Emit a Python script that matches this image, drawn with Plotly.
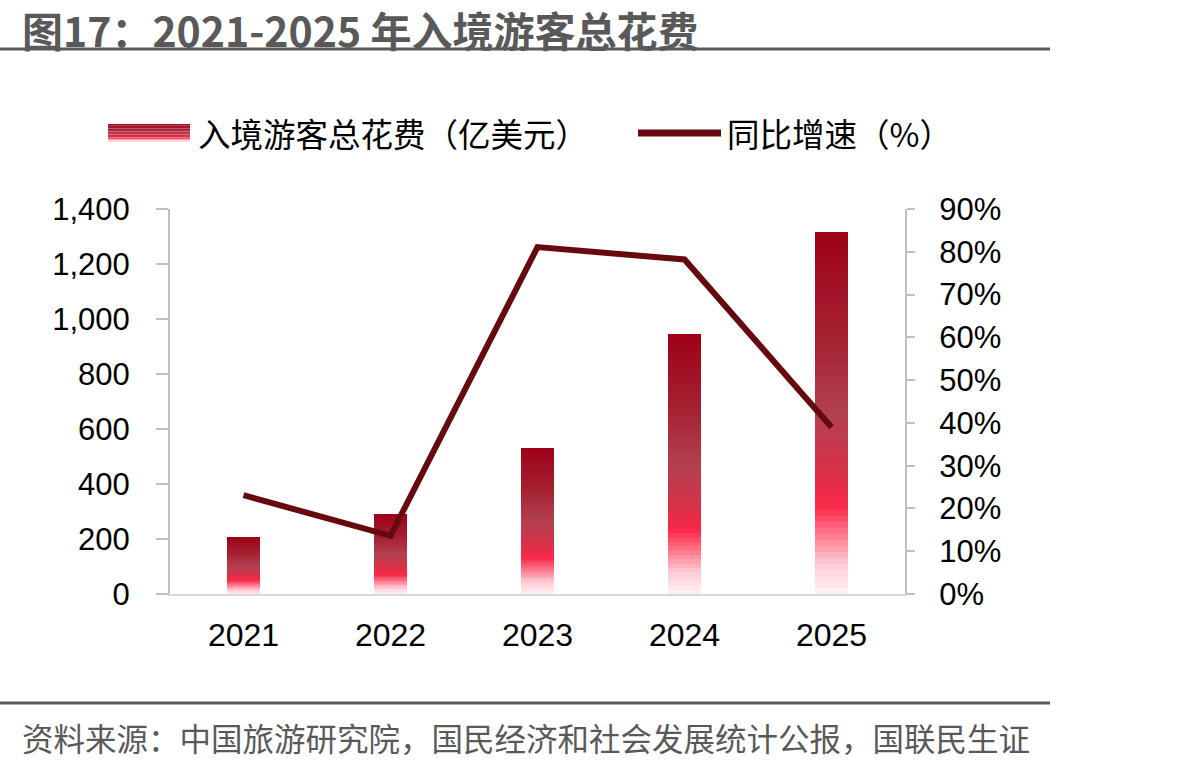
import plotly.graph_objects as go

# ---------------- data ----------------
years = ["2021", "2022", "2023", "2024", "2025"]
spending = [207, 291, 531, 945, 1316]          # 入境游客总花费（亿美元）
growth = [23.1, 13.6, 81.1, 78.2, 39.0]          # 同比增速（%）
left_ticks = [0, 200, 400, 600, 800, 1000, 1200, 1400]
right_ticks = [0, 10, 20, 30, 40, 50, 60, 70, 80, 90]
right_ticktext = ["0%", "10%", "20%", "30%", "40%", "50%", "60%", "70%", "80%", "90%"]

title_text = "图17：2021-2025 年入境游客总花费"
source_text = "资料来源：中国旅游研究院，国民经济和社会发展统计公报，国联民生证"
legend_bar = "入境游客总花费（亿美元）"
legend_line = "同比增速（%）"

# ---------------- styling ----------------
W, H = 1199, 765
L, R, T, B = 170, 905, 209, 594
FONT = "Liberation Sans, Arial, Noto Sans CJK SC, sans-serif"
CJK = "Noto Sans CJK SC, Liberation Sans, sans-serif"
LINE_COLOR = "#660A10"

# gradient stops: (fraction from bottom, rgb)
stops = [
    (0.00, (255, 242, 245)),
    (0.08, (255, 205, 214)),
    (0.16, (255, 125, 145)),
    (0.245, (250, 40, 72)),
    (0.35, (212, 50, 72)),
    (0.50, (178, 64, 80)),
    (0.70, (165, 35, 50)),
    (1.00, (158, 0, 24)),
]


def grad(f):
    for (f0, c0), (f1, c1) in zip(stops[:-1], stops[1:]):
        if f0 <= f <= f1:
            t = (f - f0) / (f1 - f0) if f1 > f0 else 0
            c = tuple(round(a + (b - a) * t) for a, b in zip(c0, c1))
            return "rgb(%d,%d,%d)" % c
    return "rgb(%d,%d,%d)" % stops[-1][1]


def px(xp):
    return (xp - L) / (R - L)


def py(yp):
    return (B - yp) / (B - T)


fig = go.Figure()

N = 60
for i in range(N):
    f = (i + 0.5) / N
    fig.add_trace(go.Bar(
        x=years, y=[v / N for v in spending],
        marker=dict(color=grad(f), line=dict(width=0)),
        width=0.22, showlegend=False, hoverinfo="skip",
        yaxis="y",
    ))

fig.add_trace(go.Scatter(
    x=years, y=growth, mode="lines",
    line=dict(color=LINE_COLOR, width=6),
    yaxis="y2", showlegend=False,
))

shapes = []
annotations = []

# title + rule
annotations.append(dict(
    xref="paper", yref="paper", x=px(20), y=py(29), xanchor="left", yanchor="middle",
    text="<b>%s</b>" % title_text, showarrow=False,
    font=dict(family=CJK, size=41, color="#595959"),
))
shapes.append(dict(type="line", xref="paper", yref="paper",
                   x0=px(0), x1=px(1050), y0=py(49), y1=py(49),
                   line=dict(color="#595959", width=3)))
# footer rule + source
shapes.append(dict(type="line", xref="paper", yref="paper",
                   x0=px(0), x1=px(1050), y0=py(703), y1=py(703),
                   line=dict(color="#595959", width=3)))
annotations.append(dict(
    xref="paper", yref="paper", x=px(20), y=py(737), xanchor="left", yanchor="middle",
    text=source_text, showarrow=False,
    font=dict(family=CJK, size=31.5, color="#595959"),
))

# legend: gradient bar symbol
nl = 12
y_top, y_bot = 124, 142
for i in range(nl):
    f = 1 - (i + 0.5) / nl
    ya = y_top + (y_bot - y_top) * i / nl
    yb = y_top + (y_bot - y_top) * (i + 1) / nl
    shapes.append(dict(type="rect", xref="paper", yref="paper",
                       x0=px(108), x1=px(190), y0=py(yb), y1=py(ya),
                       fillcolor=grad(f), line=dict(width=0), layer="above"))
annotations.append(dict(
    xref="paper", yref="paper", x=px(196), y=py(133), xanchor="left", yanchor="middle",
    text=legend_bar, showarrow=False, font=dict(family=CJK, size=32.5, color="#000000"),
))
shapes.append(dict(type="line", xref="paper", yref="paper",
                   x0=px(638), x1=px(721), y0=py(133), y1=py(133),
                   line=dict(color=LINE_COLOR, width=7)))
annotations.append(dict(
    xref="paper", yref="paper", x=px(725), y=py(133), xanchor="left", yanchor="middle",
    text=legend_line, showarrow=False, font=dict(family=CJK, size=32.5, color="#000000"),
))

fig.update_layout(
    width=W, height=H,
    margin=dict(l=L, r=W - R, t=T, b=H - B, pad=0),
    paper_bgcolor="white", plot_bgcolor="white",
    barmode="stack", bargap=0,
    showlegend=False,
    font=dict(family=FONT, size=30, color="#000000"),
    xaxis=dict(
        type="category", showgrid=False, zeroline=False,
        showline=True, linecolor="#D9D9D9", linewidth=2,
        ticks="", tickfont=dict(size=32, family=FONT, color="#000000"),
        ticklabelstandoff=12,
    ),
    yaxis=dict(
        range=[0, 1400], tickvals=left_ticks, tickformat=",d",
        showgrid=False, zeroline=False,
        showline=True, linecolor="#BFBFBF", linewidth=2,
        ticks="outside", ticklen=12, tickcolor="#BFBFBF", tickwidth=2,
        tickfont=dict(size=31, family=FONT, color="#000000"),
        ticklabelstandoff=20,
    ),
    yaxis2=dict(
        range=[0, 90], tickvals=right_ticks, ticktext=right_ticktext,
        overlaying="y", side="right",
        showgrid=False, zeroline=False,
        showline=True, linecolor="#BFBFBF", linewidth=2,
        ticks="outside", ticklen=8, tickcolor="#BFBFBF", tickwidth=2,
        tickfont=dict(size=31, family=FONT, color="#000000"),
        ticklabelstandoff=18,
    ),
    shapes=shapes,
    annotations=annotations,
)

fig.write_html("out.html")
